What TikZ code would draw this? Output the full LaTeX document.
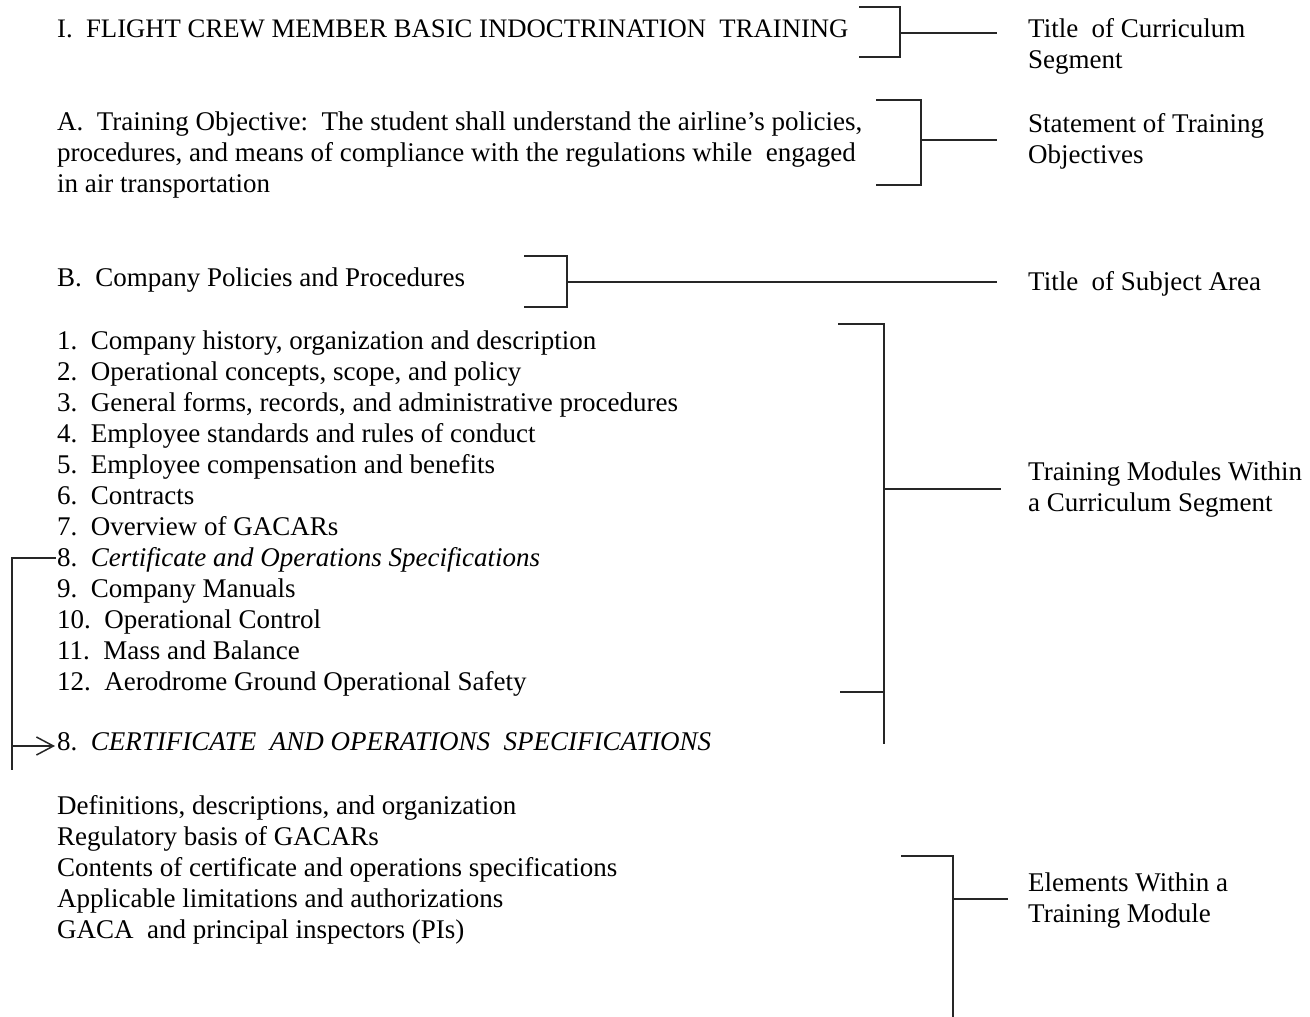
\documentclass[tikz,border=0pt]{standalone}
\usepackage{fontspec}
\setmainfont{Liberation Serif}
\usetikzlibrary{arrows.meta}
\newcommand{\lines}[1]{\begin{tabular}[t]{@{}l@{}}#1\end{tabular}}
\begin{document}
\begin{tikzpicture}[x=1pt,y=-1pt,
  txt/.style={anchor=base west,inner sep=0pt,font=\fontsize{27}{31}\selectfont},
  lbl/.style={txt},
  brk/.style={line width=1.8pt,black!85,line cap=rect}]
\useasboundingbox (0,0) rectangle (1310,1017);

% left column: curriculum outline
\node[txt,font=\fontsize{26.7}{31}\selectfont] (seg) at (57,37) {I.\ \ FLIGHT CREW MEMBER BASIC INDOCTRINATION\ \ TRAINING};
\node[txt] (obj) at (57,130) {\lines{A.\ \ Training Objective:\ \ The student shall understand the airline’s policies,\\
procedures, and means of compliance with the regulations while\ \ engaged\\
in air transportation}};
\node[txt] (subj) at (57,286) {B.\ \ Company Policies and Procedures};
\node[txt] (mods) at (57,349) {\lines{1.\ \ Company history, organization and description\\
2.\ \ Operational concepts, scope, and policy\\
3.\ \ General forms, records, and administrative procedures\\
4.\ \ Employee standards and rules of conduct\\
5.\ \ Employee compensation and benefits\\
6.\ \ Contracts\\
7.\ \ Overview\ of GACARs\\
8.\ \ \textit{Certificate and Operations Specifications}\\
9.\ \ Company Manuals\\
10.\ \ Operational Control\\
11.\ \ Mass and Balance\\
12.\ \ Aerodrome Ground Operational Safety}};
\node[txt] (mod8) at (57,750) {8.\ \ \textit{CERTIFICATE\ \ AND OPERATIONS\ \ SPECIFICATIONS}};
\node[txt] (elems) at (57,814) {\lines{Definitions,\ descriptions,\ and organization\\
Regulatory basis of GACARs\\
Contents of certificate and operations specifications\\
Applicable limitations and authorizations\\
GACA\ \ and principal inspectors (PIs)}};

% right column: labels
\node[lbl,font=\fontsize{27}{32}\selectfont] (l1) at (1028,37) {\lines{Title\ \ of Curriculum\\Segment}};
\node[lbl] (l2) at (1028,132) {\lines{Statement of Training\\Objectives}};
\node[lbl] (l3) at (1028,290) {Title\ \ of Subject Area};
\node[lbl] (l4) at (1028,480) {\lines{Training Modules Within\\a Curriculum Segment}};
\node[lbl] (l5) at (1028,891) {\lines{Elements Within a\\Training Module}};

% bracket end points
\coordinate (b1t) at (860,7);   \coordinate (b1b) at (860,57);
\coordinate (b1m) at (900,33);  \coordinate (b1e) at (996,33);
\coordinate (b2t) at (877,100); \coordinate (b2b) at (877,185);
\coordinate (b2m) at (921,140); \coordinate (b2e) at (996,140);
\coordinate (b3t) at (525,256); \coordinate (b3b) at (525,307);
\coordinate (b3m) at (567,282); \coordinate (b3e) at (996,282);
\coordinate (b4t) at (839,324); \coordinate (b4l) at (841,692);
\coordinate (b4m) at (884,489); \coordinate (b4e) at (1000,489);
\coordinate (b4z) at (884,743);
\coordinate (b5t) at (902,856); \coordinate (b5m) at (953,899);
\coordinate (b5e) at (1007,899); \coordinate (b5z) at (953,1017);
\coordinate (a1) at (55,558);   \coordinate (a0) at (12,769);
\coordinate (a2) at (55,746);

% brackets
\draw[brk] (b1t) -| (b1m) |- (b1b);  \draw[brk] (b1m) -- (b1e);
\draw[brk] (b2t) -| (b2m) |- (b2b);  \draw[brk] (b2m) -- (b2e);
\draw[brk] (b3t) -| (b3m) |- (b3b);  \draw[brk] (b3m) -- (b3e);
\draw[brk] (b4t) -| (b4z);  \draw[brk] (b4l) -- (b4l -| b4m);  \draw[brk] (b4m) -- (b4e);
\draw[brk] (b5t) -| (b5z);  \draw[brk] (b5m) -- (b5e);

% cross reference from module 8 to its expansion
\draw[brk,line width=1.5pt] (a1) -| (a0);
\draw[brk,line width=1.5pt,-{Straight Barb[length=17pt,width=18pt,line width=1.5pt]}] (a2 -| a0) -- (a2);
\end{tikzpicture}
\end{document}
